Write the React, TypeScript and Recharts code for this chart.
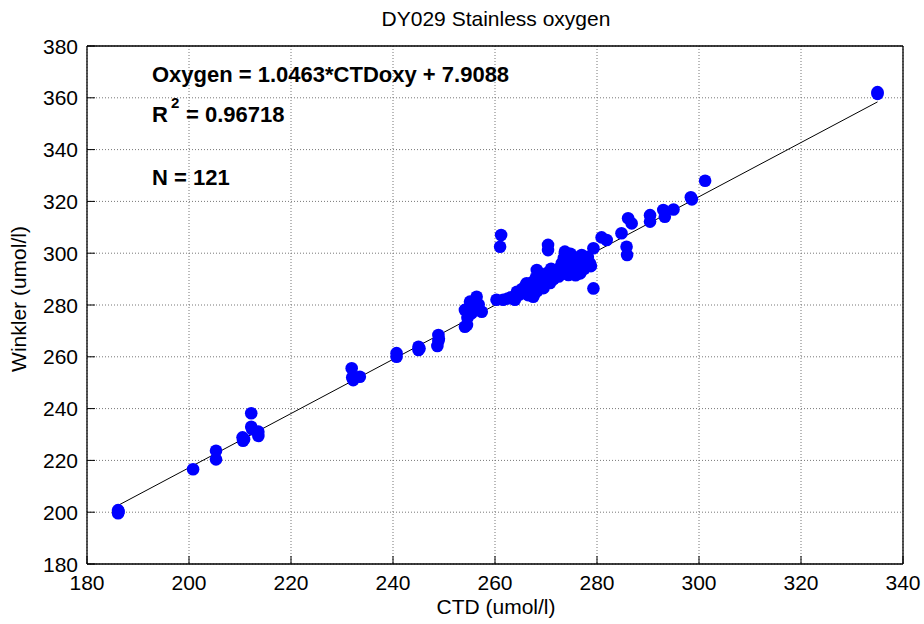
import React from 'react'
import {
  ScatterChart,
  Scatter,
  XAxis,
  YAxis,
  CartesianGrid,
  ReferenceLine,
} from 'recharts'

// Bottle samples: CTD oxygen vs Winkler titration (umol/l)
const ctdValues = [
  186.1, 186.1, 200.8, 205.3, 205.3, 210.5, 210.6, 212.2, 212.2, 213.6,
  213.6, 231.9, 232.2, 233.5, 240.7, 240.7, 245.0, 245.0, 248.9, 248.7,
  248.9, 254.1, 254.5, 254.1, 255.1, 256.4, 255.4, 257.4, 260.3, 261.6,
  261.0, 261.2, 263.9, 264.3, 266.2, 266.9, 267.5, 268.2, 268.5, 269.1,
  270.1, 270.4, 270.4, 272.1, 273.1, 273.7, 274.1, 274.4, 275.4, 276.3,
  276.7, 277.0, 278.0, 278.6, 279.3, 279.3, 280.9, 281.9, 284.8, 285.8,
  285.9, 286.1, 286.8, 290.4, 290.4, 293.0, 293.3, 295.0, 298.4, 298.6,
  301.2, 335.0, 335.0,
  262.5, 263.2, 264.8, 265.3, 265.8, 266.0, 266.5, 267.0, 267.3, 267.8,
  268.0, 268.3, 268.8, 269.0, 269.5, 269.8, 270.3, 270.8, 271.2, 271.5,
  272.0, 272.5, 272.8, 273.3, 273.8, 274.0, 274.6, 275.0, 275.5, 275.8,
  276.0, 276.5, 277.2, 277.5, 278.2, 278.8, 274.8, 273.5, 255.8, 254.6,
  256.8, 249.0, 212.4, 210.8, 186.2, 232.0, 245.2, 271.0,
]

const winklerValues = [
  200.8, 199.6, 216.6, 223.7, 220.4, 228.9, 227.6, 238.2, 233.0, 231.1,
  229.4, 255.6, 251.0, 252.3, 261.4, 260.0, 263.9, 262.6, 268.4, 264.2,
  266.1, 271.6, 272.3, 278.1, 281.3, 283.2, 276.8, 277.4, 282.0, 282.0,
  302.5, 307.0, 282.0, 285.1, 288.4, 284.5, 283.2, 293.5, 287.1, 289.7,
  292.2, 303.2, 301.2, 291.6, 296.1, 300.6, 297.4, 291.6, 298.6, 294.8,
  292.2, 299.3, 296.7, 296.1, 301.9, 286.4, 306.1, 305.1, 307.7, 302.5,
  299.3, 313.5, 311.5, 314.7, 312.2, 316.7, 314.1, 316.9, 321.6, 320.8,
  328.0, 361.5, 362.2,
  282.5, 283.0, 284.0, 286.2, 285.0, 287.5, 283.8, 286.0, 288.8, 284.5,
  290.5, 285.5, 288.0, 291.0, 286.5, 289.0, 290.5, 288.5, 292.8, 290.0,
  293.5, 291.0, 294.5, 292.5, 295.5, 293.0, 296.0, 293.5, 296.8, 291.5,
  297.5, 295.5, 297.8, 294.0, 298.5, 295.0, 299.8, 298.2, 279.5, 275.0,
  280.2, 267.0, 232.0, 228.2, 200.2, 252.0, 263.2, 294.0,
]

// Linear fit Winkler = slope * CTD + intercept
const slope = 1.0463
const intercept = 7.9088
const rSquared = '0.96718'

const xTicks = [180, 200, 220, 240, 260, 280, 300, 320, 340]
const yTicks = [180, 200, 220, 240, 260, 280, 300, 320, 340, 360, 380]

const points = ctdValues.map((ctd, i) => ({ ctd, winkler: winklerValues[i] }))
const xMin = Math.min(...ctdValues)
const xMax = Math.max(...ctdValues)

const FONT = '"Liberation Sans", Arial, sans-serif'
const TICK_LEN = 8

const BottomTick = (props: any) => {
  const { x, y, payload } = props
  return (
    <g>
      <line x1={x} x2={x} y1={y} y2={y - TICK_LEN} stroke="#000" />
      <text x={x} y={y + 26} textAnchor="middle" fontSize={21} fontFamily={FONT} fill="#000">
        {payload.value}
      </text>
    </g>
  )
}

const LeftTick = (props: any) => {
  const { x, y, payload } = props
  return (
    <g>
      <line x1={x} x2={x + TICK_LEN} y1={y} y2={y} stroke="#000" />
      <text x={x - 9} y={y + 7.5} textAnchor="end" fontSize={21} fontFamily={FONT} fill="#000">
        {payload.value}
      </text>
    </g>
  )
}

const TopTick = (props: any) => {
  const { x, y } = props
  return <line x1={x} x2={x} y1={y} y2={y + TICK_LEN} stroke="#000" />
}

const RightTick = (props: any) => {
  const { x, y } = props
  return <line x1={x} x2={x - TICK_LEN} y1={y} y2={y} stroke="#000" />
}

const Dot = (props: any) => <circle cx={props.cx} cy={props.cy} r={6.3} fill="#0000ff" />

export default function App() {
  return (
    <div style={{ position: 'absolute', left: 0, top: 0, width: 924, height: 624, background: '#fff' }}>
      <ScatterChart width={924} height={624} margin={{ top: 36, right: 11, bottom: 30, left: 37 }}>
        <CartesianGrid stroke="#777" strokeDasharray="1 2" />
        <XAxis
          type="number"
          dataKey="ctd"
          domain={[180, 340]}
          ticks={xTicks}
          height={30}
          tickSize={0}
          tickMargin={0}
          tickLine={false}
          axisLine={{ stroke: '#000', strokeWidth: 1.3 }}
          tick={<BottomTick />}
          interval={0}
        />
        <XAxis
          xAxisId="top"
          orientation="top"
          type="number"
          domain={[180, 340]}
          ticks={xTicks}
          height={10}
          tickSize={0}
          tickMargin={0}
          tickLine={false}
          axisLine={{ stroke: '#000', strokeWidth: 1.3 }}
          tick={<TopTick />}
          interval={0}
        />
        <YAxis
          type="number"
          dataKey="winkler"
          domain={[180, 380]}
          ticks={yTicks}
          width={50}
          tickSize={0}
          tickMargin={0}
          tickLine={false}
          axisLine={{ stroke: '#000', strokeWidth: 1.3 }}
          tick={<LeftTick />}
          interval={0}
        />
        <YAxis
          yAxisId="right"
          orientation="right"
          type="number"
          domain={[180, 380]}
          ticks={yTicks}
          width={10}
          tickSize={0}
          tickMargin={0}
          tickLine={false}
          axisLine={{ stroke: '#000', strokeWidth: 1.3 }}
          tick={<RightTick />}
          interval={0}
        />
        <Scatter data={points} shape={<Dot />} isAnimationActive={false} />
        <ReferenceLine
          segment={[
            { x: xMin, y: slope * xMin + intercept },
            { x: xMax, y: slope * xMax + intercept },
          ]}
          stroke="#000"
          strokeWidth={1}
        />
      </ScatterChart>
      <svg
        width={924}
        height={624}
        style={{ position: 'absolute', left: 0, top: 0, pointerEvents: 'none' }}
        fontFamily={FONT}
      >
        <text x={496} y={26} textAnchor="middle" fontSize={21} fill="#000">
          DY029 Stainless oxygen
        </text>
        <text x={496} y={614} textAnchor="middle" fontSize={21} fill="#000">
          CTD (umol/l)
        </text>
        <text
          x={0}
          y={0}
          transform="translate(26 299) rotate(-90)"
          textAnchor="middle"
          fontSize={21}
          fill="#000"
        >
          Winkler (umol/l)
        </text>
        <text x={152} y={82} fontSize={22} fontWeight="bold" fill="#000">
          {`Oxygen = ${slope}*CTDoxy + ${intercept}`}
        </text>
        <text x={152} y={122} fontSize={22} fontWeight="bold" fill="#000">R</text>
        <text x={171} y={108} fontSize={15} fontWeight="bold" fill="#000">2</text>
        <text x={186} y={122} fontSize={22} fontWeight="bold" fill="#000">
          {`= ${rSquared}`}
        </text>
        <text x={152} y={185} fontSize={22} fontWeight="bold" fill="#000">
          {`N = ${points.length}`}
        </text>
      </svg>
    </div>
  )
}
